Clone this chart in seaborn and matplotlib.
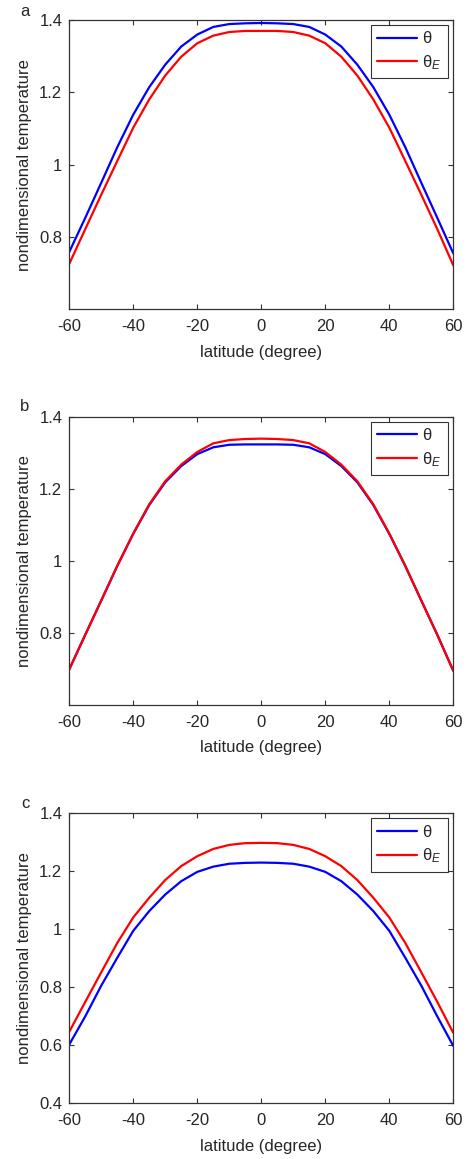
import numpy as np
import pandas as pd
import matplotlib
matplotlib.use('Agg')
import matplotlib.pyplot as plt
import seaborn as sns

# latitude grid (degree)
lat = [-60, -55, -50, -45, -40, -35, -30, -25, -20, -15, -10, -5, 0,
       5, 10, 15, 20, 25, 30, 35, 40, 45, 50, 55, 60]

# panel a
theta_a = [0.759, 0.853, 0.950, 1.048, 1.138, 1.214, 1.276, 1.326, 1.359, 1.380, 1.388, 1.390, 1.391,
           1.390, 1.388, 1.380, 1.359, 1.326, 1.276, 1.214, 1.138, 1.048, 0.950, 0.853, 0.755]
thetaE_a = [0.726, 0.822, 0.917, 1.010, 1.102, 1.180, 1.246, 1.298, 1.335, 1.356, 1.366, 1.369, 1.369,
            1.369, 1.366, 1.356, 1.335, 1.298, 1.246, 1.180, 1.102, 1.010, 0.917, 0.822, 0.722]

# panel b
theta_b = [0.699, 0.795, 0.890, 0.986, 1.075, 1.155, 1.218, 1.263, 1.296, 1.315, 1.322, 1.323, 1.323,
           1.323, 1.322, 1.315, 1.296, 1.263, 1.218, 1.155, 1.075, 0.986, 0.890, 0.795, 0.695]
thetaE_b = [0.699, 0.795, 0.890, 0.986, 1.076, 1.157, 1.221, 1.267, 1.302, 1.326, 1.335, 1.338, 1.339,
            1.338, 1.335, 1.326, 1.302, 1.267, 1.221, 1.157, 1.076, 0.986, 0.890, 0.795, 0.695]

# panel c
theta_c = [0.603, 0.700, 0.806, 0.902, 0.995, 1.063, 1.120, 1.166, 1.198, 1.216, 1.226, 1.229, 1.230,
           1.229, 1.226, 1.216, 1.198, 1.166, 1.120, 1.063, 0.995, 0.902, 0.806, 0.700, 0.598]
thetaE_c = [0.647, 0.750, 0.852, 0.953, 1.041, 1.109, 1.170, 1.218, 1.252, 1.277, 1.291, 1.297, 1.298,
            1.297, 1.291, 1.277, 1.252, 1.218, 1.170, 1.109, 1.041, 0.953, 0.852, 0.750, 0.643]

panel_names = ['a', 'b', 'c']
x_ticks = [-60, -40, -20, 0, 20, 40, 60]
y_ticks_ab = [0.8, 1, 1.2, 1.4]
y_ticks_c = [0.4, 0.6, 0.8, 1, 1.2, 1.4]

sns.set_theme(style='ticks')
plt.rcParams['font.family'] = ['Liberation Sans', 'DejaVu Sans']
plt.rcParams['mathtext.fontset'] = 'custom'
plt.rcParams['mathtext.it'] = 'Liberation Sans:italic'
plt.rcParams['mathtext.rm'] = 'Liberation Sans'

fs = 12

fig = plt.figure(figsize=(4.70, 11.59), dpi=100)

positions = [[0.1474, 0.7330, 0.8170, 0.2500],
             [0.1474, 0.3917, 0.8170, 0.2488],
             [0.1474, 0.0480, 0.8170, 0.2503]]
label_y = [12, 406.5, 803.5]

data = [(theta_a, thetaE_a, (0.6, 1.4), y_ticks_ab),
        (theta_b, thetaE_b, (0.6, 1.4), y_ticks_ab),
        (theta_c, thetaE_c, (0.4, 1.4), y_ticks_c)]

for i, (th, thE, ylim, yt) in enumerate(data):
    ax = fig.add_axes(positions[i])
    df = pd.DataFrame({'lat': lat, 'theta': th, 'thetaE': thE})
    sns.lineplot(data=df, x='lat', y='theta', color='#0000ff', lw=1.6, label='θ', ax=ax)
    sns.lineplot(data=df, x='lat', y='thetaE', color='#ff0000', lw=1.6, label='θ$_E$', ax=ax)

    ax.set_xlim(-60, 60)
    ax.set_ylim(*ylim)
    ax.set_xticks(x_ticks)
    ax.set_xticklabels([str(t) for t in x_ticks])
    ax.set_yticks(yt)
    ax.set_yticklabels(['%g' % t for t in yt])
    ax.tick_params(direction='in', length=3.5, width=0.8, top=True, right=True,
                   labelsize=fs, color='#333333')
    ax.tick_params(axis='x', pad=7)
    ax.tick_params(axis='y', pad=5)
    for s in ax.spines.values():
        s.set_color('#333333')
        s.set_linewidth(0.9)

    ax.set_xlabel('latitude (degree)', fontsize=fs)
    ax.set_ylabel('nondimensional temperature', fontsize=fs)
    ax.xaxis.set_label_coords(0.5, -0.122)
    ax.yaxis.set_label_coords(-0.097, 0.5)

    leg = ax.legend(loc='upper right', fontsize=fs, frameon=True, fancybox=False,
                    edgecolor='black', handlelength=2.4, handletextpad=0.3,
                    borderaxespad=0.3, labelspacing=0.4, borderpad=0.4)
    leg.get_frame().set_linewidth(0.8)

    fig.text(25 / 470, 1 - label_y[i] / 1159, panel_names[i], ha='center', va='center',
             fontsize=fs)

fig.savefig('out.png', dpi=100)
